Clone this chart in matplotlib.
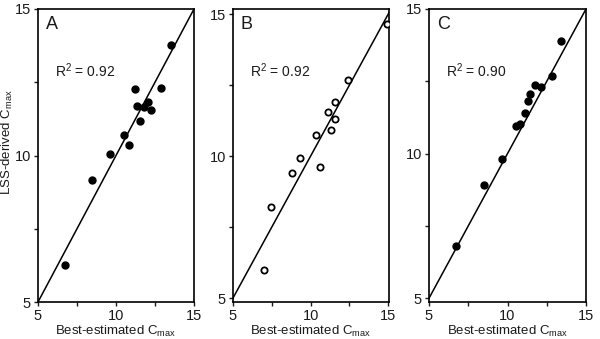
import matplotlib
matplotlib.use('Agg')
import matplotlib.pyplot as plt

plt.rcParams['font.family'] = ['Liberation Sans', 'DejaVu Sans']
plt.rcParams['mathtext.default'] = 'regular'

# panel A: filled points
a_x = [13.54, 11.21, 12.91, 11.37, 11.82, 12.05, 12.25, 11.54, 10.51, 10.83, 9.60, 8.48, 6.72]
a_y = [13.76, 12.26, 12.32, 11.70, 11.67, 11.81, 11.56, 11.19, 10.71, 10.35, 10.06, 9.18, 6.27]

# panel B: open points
b_x = [14.89, 12.40, 11.58, 11.13, 11.56, 11.32, 10.35, 9.32, 8.81, 10.63, 7.43, 7.00]
b_y = [14.65, 12.68, 11.92, 11.54, 11.31, 10.93, 10.74, 9.92, 9.42, 9.61, 8.20, 5.98]

# panel C: filled points
c_x = [13.43, 12.85, 12.15, 11.72, 11.45, 11.32, 11.13, 10.77, 10.51, 9.64, 8.51, 6.74]
c_y = [13.88, 12.68, 12.29, 12.37, 12.07, 11.81, 11.42, 11.04, 10.95, 9.82, 8.91, 6.79]

letters = ['A', 'B', 'C']
r2 = ['0.92', '0.92', '0.90']
ticks = [5, 10, 15]
minor = [7.5, 12.5]

fig = plt.figure(figsize=(6, 3.39), dpi=100)
positions = [
    [38 / 600, 37 / 339, 156 / 600, 293 / 339],
    [233 / 600, 37 / 339, 156 / 600, 293 / 339],
    [429 / 600, 37 / 339, 157 / 600, 293 / 339],
]
xlims = [(5, 15), (5, 15.05), (5, 15)]
ylims = [(5, 15), (4.86, 15.18), (4.87, 15)]
data = [(a_x, a_y, True), (b_x, b_y, False), (c_x, c_y, True)]

col = '#1a1a1a'
for i, pos in enumerate(positions):
    ax = fig.add_axes(pos)
    x, y, filled = data[i]
    ax.plot([4, 16], [4, 16], color='black', lw=1.1, zorder=2)
    if filled:
        ax.plot(x, y, 'o', color='black', ms=5, zorder=3)
    else:
        ax.plot(x, y, 'o', mfc='white', mec='black', mew=1.3, ms=4.5, zorder=3)
    ax.set_xlim(*xlims[i])
    ax.set_ylim(*ylims[i])
    ax.set_xticks(ticks)
    ax.set_yticks(ticks)
    ax.set_xticks(minor, minor=True)
    ax.set_yticks(minor, minor=True)
    ax.tick_params(which='both', direction='out', length=3, width=1, labelsize=10.5,
                   colors=col, pad=2)
    for s in ax.spines.values():
        s.set_linewidth(1.2)
    ax.text(0.05, 0.975, letters[i], transform=ax.transAxes, fontsize=13,
            ha='left', va='top', color=col)
    ax.text(0.11, 0.79, 'R$^2$ = ' + r2[i], transform=ax.transAxes, fontsize=10,
            ha='left', va='center', color=col)
    ax.set_xlabel('Best-estimated C$_{max}$', fontsize=9.5, color=col, labelpad=1)
    if i == 0:
        ax.set_ylabel('LSS-derived C$_{max}$', fontsize=9.5, color=col)
        ax.yaxis.set_label_coords(-0.145, 0.545)

fig.savefig('out.png', dpi=100)
